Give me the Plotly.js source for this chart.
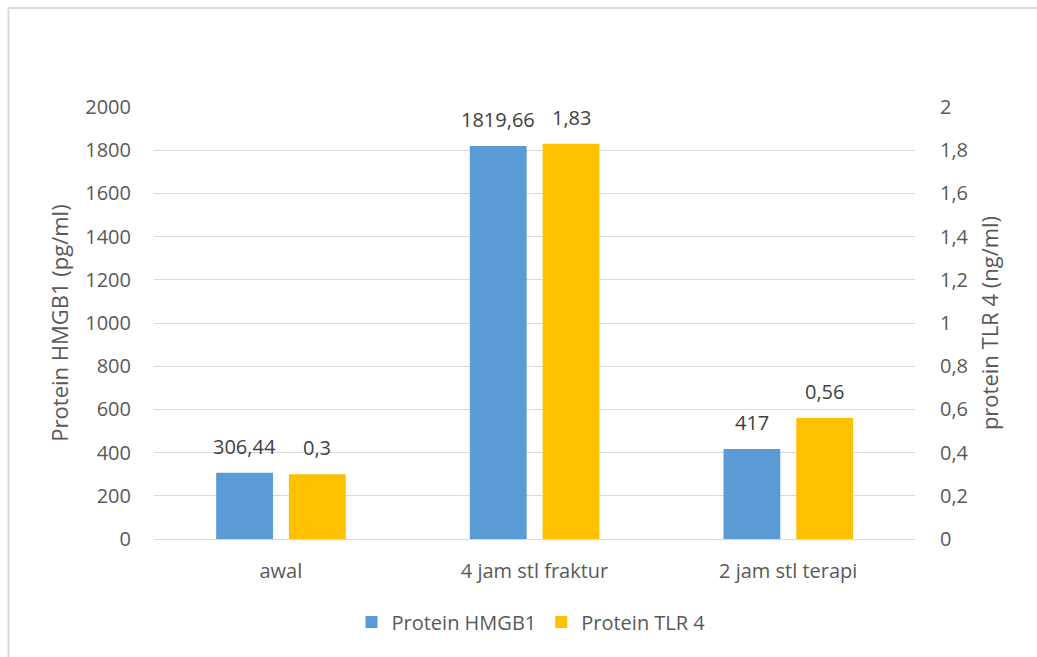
<!DOCTYPE html>
<html>
<head>
<meta charset="utf-8">
<script src="https://cdn.plot.ly/plotly-3.0.1.min.js"></script>
<style>html,body{margin:0;padding:0;background:#fff;}#chart{width:1037px;height:657px;}</style>
</head>
<body>
<div id="chart"></div>
<script>
const categories = ["awal", "4 jam stl fraktur", "2 jam stl terapi"];
const hmgb1 = [306.44, 1819.66, 417];
const tlr4 = [0.30, 1.83, 0.56];
const seriesNames = ["Protein HMGB1", "Protein TLR 4"];
const leftTicks = [0, 200, 400, 600, 800, 1000, 1200, 1400, 1600, 1800, 2000];
const rightTicks = [0, 0.2, 0.4, 0.6, 0.8, 1, 1.2, 1.4, 1.6, 1.8, 2];

const fmt = v => String(v).replace('.', ',');
const FONT = '"Open Sans", "Noto Sans", sans-serif';
const TXT = '#595959';

const W = 1037, H = 657, L = 154, R = 915, T = 107, B = 539;
const px = x => (x - L) / (R - L);
const py = y => (B - y) / (B - T);

const BW = 0.224, OFF1 = -0.255, OFF2 = 0.032;

const traces = [
  {
    type: 'bar', name: seriesNames[0], x: categories, y: hmgb1, yaxis: 'y',
    marker: {color: '#5B9BD5'}, width: BW, offset: OFF1, hoverinfo: 'x+y'
  },
  {
    type: 'bar', name: seriesNames[1], x: categories, y: tlr4, yaxis: 'y2',
    marker: {color: '#FFC000'}, width: BW, offset: OFF2, hoverinfo: 'x+y'
  }
];

const labelFont = {family: FONT, size: 20, color: '#404040'};
const annotations = [];
categories.forEach((c, i) => {
  annotations.push({x: i + OFF1 + BW / 2, y: hmgb1[i], xref: 'x', yref: 'y', text: fmt(hmgb1[i]),
    showarrow: false, yanchor: 'bottom', xanchor: 'center', yshift: 11, font: labelFont});
  annotations.push({x: i + OFF2 + BW / 2, y: tlr4[i], xref: 'x', yref: 'y2', text: fmt(tlr4[i]),
    showarrow: false, yanchor: 'bottom', xanchor: 'center', yshift: 11, font: labelFont});
});

const layout = {
  width: W, height: H,
  margin: {l: L, r: W - R, t: T, b: H - B, pad: 0},
  paper_bgcolor: '#fff', plot_bgcolor: '#fff',
  separators: ',.',
  font: {family: FONT, size: 20, color: TXT},
  barmode: 'overlay',
  showlegend: true,
  legend: {orientation: 'h', x: px(531), xanchor: 'center', y: py(622), yanchor: 'middle',
           font: {family: FONT, size: 20, color: TXT}, traceorder: 'normal', itemwidth: 30},
  xaxis: {
    type: 'category', range: [-0.5, 2.5], showgrid: false, showline: false, zeroline: false,
    ticks: '', tickfont: {family: FONT, size: 20, color: TXT}, ticklabelstandoff: 18,
    fixedrange: true
  },
  yaxis: {
    range: [0, 2000], tickvals: leftTicks, ticktext: leftTicks.map(fmt),
    showgrid: true, gridcolor: '#D9D9D9', gridwidth: 1,
    zeroline: true, zerolinecolor: '#D9D9D9', zerolinewidth: 1,
    showline: false, ticks: '', ticklabelstandoff: 22,
    tickfont: {family: FONT, size: 20, color: TXT},
    title: {text: 'Protein HMGB1 (pg/ml)', font: {family: FONT, size: 22, color: TXT}, standoff: 10},
    fixedrange: true
  },
  yaxis2: {
    range: [0, 2], overlaying: 'y', side: 'right',
    tickvals: rightTicks, ticktext: rightTicks.map(fmt),
    showgrid: false, zeroline: false, showline: false, ticks: '', ticklabelstandoff: 24,
    tickfont: {family: FONT, size: 20, color: TXT},
    title: {text: 'protein TLR 4 (ng/ml)', font: {family: FONT, size: 22, color: TXT}, standoff: 14},
    fixedrange: true
  },
  annotations: annotations,
  shapes: [
    {type: 'line', xref: 'paper', yref: 'paper', x0: px(8), x1: px(1040), y0: py(8), y1: py(8),
     line: {color: '#D9D9D9', width: 2}, layer: 'below'},
    {type: 'line', xref: 'paper', yref: 'paper', x0: px(8.5), x1: px(8.5), y0: py(7), y1: py(660),
     line: {color: '#D9D9D9', width: 2}, layer: 'below'}
  ]
};

Plotly.newPlot('chart', traces, layout, {displayModeBar: false, staticPlot: true});
</script>
</body>
</html>
